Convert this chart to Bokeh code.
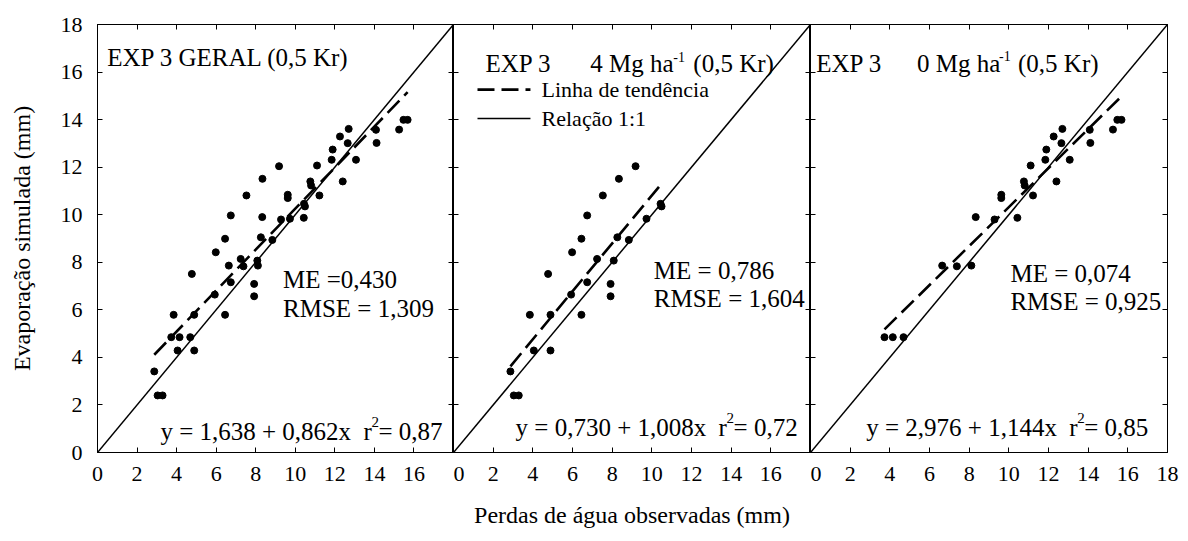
from bokeh.plotting import figure
from bokeh.layouts import row
from bokeh.models import LinearAxis, FixedTicker, Range1d
from bokeh.embed import file_html
from bokeh.resources import INLINE
from bokeh.core.properties import value

# ---------------------------------------------------------------- data
# EXP 3, 4 Mg ha-1 of straw (observed water loss vs simulated evaporation, mm)
obs_4mg = [2.87, 3.04, 3.29, 3.85, 4.05, 4.77, 4.89, 4.89, 5.93, 5.98,
           6.45, 6.45, 6.74, 6.74, 7.24, 7.53, 7.92, 7.92, 8.08, 8.26,
           8.34, 8.84, 9.18, 9.73, 10.44, 10.49]
sim_4mg = [3.41, 2.40, 2.40, 5.79, 4.29, 7.51, 5.79, 4.29, 6.64, 8.42,
           8.99, 5.79, 9.97, 7.16, 8.14, 10.81, 7.09, 6.57, 8.07, 9.05,
           11.51, 8.94, 12.04, 9.83, 10.46, 10.35]

# EXP 3, 0 Mg ha-1 (bare soil)
obs_0mg = [3.73, 4.15, 4.69, 6.64, 7.38, 8.11, 8.33, 9.28, 9.62, 9.62,
           10.43, 10.76, 10.80, 11.10, 11.22, 11.84, 11.89, 12.26, 12.40, 12.65,
           12.70, 13.07, 14.08, 14.11, 15.25, 15.47, 15.68]
sim_0mg = [4.85, 4.85, 4.85, 7.86, 7.83, 7.86, 9.90, 9.80, 10.84, 10.70,
           9.87, 11.40, 11.23, 12.07, 10.81, 12.31, 12.74, 13.29, 11.40, 13.01,
           13.61, 12.31, 13.57, 13.02, 13.58, 13.99, 13.99]

# EXP 3 GERAL pools both treatments
obs_all = obs_4mg + obs_0mg
sim_all = sim_4mg + sim_0mg

# trend lines (intercept, slope) as drawn
trend_all = (1.638, 0.862)
trend_4mg = (0.730, 1.008)
trend_0mg = (2.12, 0.820)

# statistics shown in each panel
me_text = ["ME =0,430", "ME = 0,786", "ME = 0,074"]
rmse_text = ["RMSE = 1,309", "RMSE = 1,604", "RMSE = 0,925"]
eq_text = ["y = 1,638 + 0,862x", "y = 0,730 + 1,008x", "y = 2,976 + 1,144x"]
r2_text = ["= 0,87", "= 0,72", "= 0,85"]

legend_labels = ["Linha de tendência", "Relação 1:1"]

AXIS_MAX = 18
TICKS = list(range(0, AXIS_MAX + 1, 2))
FONT = "Liberation Serif"

FRAME_H = 428
BORDER_TOP = 24
BORDER_BOTTOM = 88

TREND_STYLE = dict(line_color="black", line_width=2.6, line_dash="17 7")
ONE_STYLE = dict(line_color="black", line_width=1.5)


def make_panel(frame_w, border_left, border_right):
    p = figure(frame_width=frame_w, frame_height=FRAME_H,
               min_border_left=border_left, min_border_right=border_right,
               min_border_top=BORDER_TOP, min_border_bottom=BORDER_BOTTOM,
               x_range=Range1d(0, AXIS_MAX), y_range=Range1d(0, AXIS_MAX),
               x_axis_location=None, y_axis_location=None,
               output_backend="svg", toolbar_location=None)
    p.grid.visible = False
    p.outline_line_color = "black"
    p.outline_line_width = 1
    return p


def add_axis(p, side, labelled=False, overrides=None, title=None,
             standoff=14, title_standoff=18):
    ax = LinearAxis(ticker=FixedTicker(ticks=TICKS),
                    major_tick_in=5, major_tick_out=0,
                    axis_line_color="black", major_tick_line_color="black",
                    major_label_text_font=FONT)
    if labelled:
        ax.major_label_text_font_size = "22px"
        ax.major_label_text_color = "black"
        ax.major_label_standoff = standoff
        if overrides:
            ax.major_label_overrides = overrides
    else:
        # tick marks only on this side
        ax.major_label_text_color = None
        ax.major_label_text_font_size = "1px"
        ax.major_label_standoff = 0
    if title:
        ax.axis_label = title
        ax.axis_label_text_font = FONT
        ax.axis_label_text_font_size = "24px"
        ax.axis_label_text_font_style = "normal"
        ax.axis_label_text_color = "black"
        ax.axis_label_standoff = title_standoff
    p.add_layout(ax, side)
    return ax


def draw_data(p, obs, sim, trend):
    a, b = trend
    p.line([0, AXIS_MAX], [0, AXIS_MAX], **ONE_STYLE)
    xs = [min(obs), max(obs)]
    p.line(xs, [a + b * x for x in xs], **TREND_STYLE)
    p.scatter(obs, sim, marker="circle", size=7, color="black")


def put(p, x, y, text, size="25px", dx=0, dy=0, baseline="alphabetic"):
    p.text(x=[x], y=[y], text=[text], x_offset=dx, y_offset=dy,
           text_font=value(FONT), text_font_size=size, text_color="black",
           text_align="left", text_baseline=baseline)


def draw_stats(p, i, me_x, me_y, rmse_y, eq_x, eq_y):
    put(p, me_x, me_y, me_text[i])
    put(p, me_x, rmse_y, rmse_text[i])
    put(p, eq_x, eq_y, eq_text[i])
    put(p, eq_x, eq_y, "r", dx=203)
    put(p, eq_x, eq_y, "2", size="15px", dx=211, dy=-9)
    put(p, eq_x, eq_y, r2_text[i], dx=218)


def draw_heading(p, x_exp, x_dose, y, dose, sup_dx, rest_dx):
    put(p, x_exp, y, "EXP 3")
    put(p, x_dose, y, dose)
    put(p, x_dose, y, "-1", size="14px", dx=sup_dx, dy=-7)
    put(p, x_dose, y, "(0,5 Kr)", dx=rest_dx)


def draw_key(p, x0, x1, x_text, y_rows):
    # line-style key: dashed trend line, solid 1:1 line
    p.line([x0, x1], [y_rows[0]] * 2, **TREND_STYLE)
    p.line([x0, x1], [y_rows[1]] * 2, **ONE_STYLE)
    for label, yk in zip(legend_labels, y_rows):
        put(p, x_text, yk, label, size="22px", baseline="middle")


# ---------------------------------------------------------------- panel 1
p1 = make_panel(356, 97, 0)
add_axis(p1, "left", labelled=True, standoff=15,
         title="Evaporação simulada (mm)", title_standoff=23)
add_axis(p1, "below", labelled=True, overrides={18: ""})
add_axis(p1, "above")
add_axis(p1, "right")
draw_data(p1, obs_all, sim_all, trend_all)
put(p1, 0.49, 16.62, "EXP 3 GERAL (0,5 Kr)")
draw_stats(p1, 0, 9.38, 7.26, 6.04, 3.18, 0.90)

# ---------------------------------------------------------------- panel 2
p2 = make_panel(357, 0, 0)
add_axis(p2, "left")
add_axis(p2, "below", labelled=True, overrides={18: ""},
         title="Perdas de água observadas (mm)", title_standoff=18)
add_axis(p2, "above")
add_axis(p2, "right")
draw_data(p2, obs_4mg, sim_4mg, trend_4mg)
draw_heading(p2, 1.61, 6.90, 16.35, "4 Mg ha", 83, 103)
draw_stats(p2, 1, 10.10, 7.65, 6.46, 3.13, 1.06)
draw_key(p2, 1.21, 3.88, 4.44, [15.26, 14.05])

# ---------------------------------------------------------------- panel 3
p3 = make_panel(357, 0, 20)
add_axis(p3, "left")
add_axis(p3, "below", labelled=True)
add_axis(p3, "above")
add_axis(p3, "right")
draw_data(p3, obs_0mg, sim_0mg, trend_0mg)
draw_heading(p3, 0.29, 5.37, 16.37, "0 Mg ha", 82, 101)
draw_stats(p3, 2, 10.08, 7.54, 6.35, 2.81, 1.06)

layout = row(p1, p2, p3)

open("out.html", "w").write(file_html(layout, INLINE))
